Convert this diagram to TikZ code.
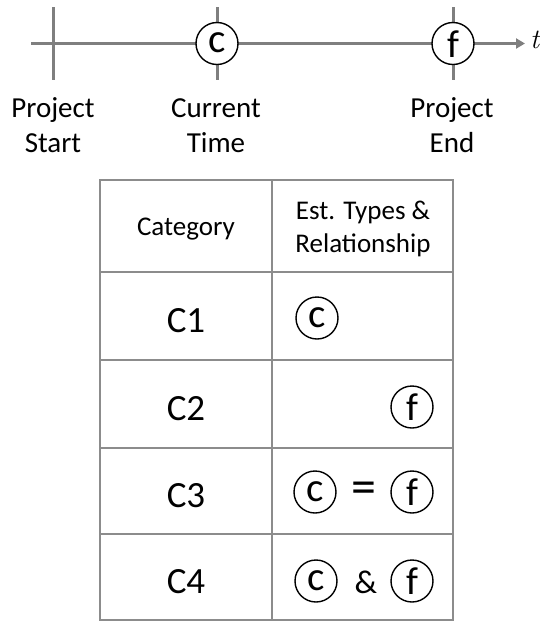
\documentclass[tikz,border=0pt]{standalone}
\usepackage{fontspec}
\setmainfont{Carlito}
\newfontfamily\lmserif{Latin Modern Roman}
\usetikzlibrary{arrows.meta}
\definecolor{tl}{HTML}{7F7F7F}
\definecolor{tb}{HTML}{8C8C8C}
\begin{document}
\begin{tikzpicture}[x=1pt,y=-1pt,
  tline/.style={draw=tl, line width=3pt},
  est/.style={circle, draw=black, line width=1.4pt, fill=white, minimum size=42pt, inner sep=0pt},
  lc/.style={anchor=base, inner sep=0pt, yshift=-9pt, font=\fontsize{41}{44}\selectfont},
  lf/.style={anchor=base, inner sep=0pt, yshift=-13.5pt, font=\fontsize{39}{44}\selectfont},
  lbl/.style={align=center, font=\fontsize{29}{35}\selectfont, inner sep=0pt},
  hdr/.style={align=center, font=\fontsize{27}{33}\selectfont, inner sep=0pt},
  cat/.style={anchor=base, font=\fontsize{37}{40}\selectfont, inner sep=0pt},
  cell/.style={draw=tb, line width=2pt, inner sep=0pt, minimum height=#1},
  cl/.style={cell=#1, minimum width=172pt},
  cr/.style={cell=#1, minimum width=181pt},
  sym/.style={anchor=base, font=\fontsize{#1}{44}\selectfont, inner sep=0pt}
]
\useasboundingbox (0,0) rectangle (540,622);
% timeline
\coordinate (L) at (31,43.5);
\coordinate (R) at (525,43.5);
\coordinate (sT) at (53,7);   \coordinate (sB) at (53,80);
\coordinate (cTt) at (217,7); \coordinate (cTb) at (217,80);
\coordinate (fTt) at (453,7); \coordinate (fTb) at (453,80);
\draw[tline, -{Triangle[length=9pt,width=10pt]}] (L) -- (R);
\draw[tline] (sT) -- (sB);
\draw[tline] (cTt) -- (cTb);
\draw[tline] (fTt) -- (fTb);
\node[est] (cT) at (217,43.5) {};
\node[lc] (cTl) at (cT.center) {c};
\node[est] (fT) at (453,43.5) {};
\node[lf] (fTl) at (fT.center) {f};
\node[anchor=base west, inner sep=0pt, font=\lmserif\itshape\fontsize{28}{30}\selectfont] (t) at (530,48) {t};
\node[lbl] (ps) at (53,125.5) {Project\\Start};
\node[lbl] (ct) at (216,125.5) {Current\\Time};
\node[lbl] (pe) at (452,125.5) {Project\\End};
% table cells
\node[cl=92pt] (h1) at (186,226) {};
\node[cr=92pt] (h2) at (362.5,226) {};
\node[cl=88pt] (a1) at (186,316) {};
\node[cr=88pt] (a2) at (362.5,316) {};
\node[cl=88pt] (b1) at (186,404) {};
\node[cr=88pt] (b2) at (362.5,404) {};
\node[cl=86pt] (c1) at (186,491) {};
\node[cr=86pt] (c2) at (362.5,491) {};
\node[cl=86pt] (d1) at (186,577) {};
\node[cr=86pt] (d2) at (362.5,577) {};
% header text
\node[hdr, anchor=base] (hcat) at (186,235) {Category};
\node[hdr] (hest) at (363,229) {Est. Types \&\\Relationship};
% categories
\node[cat] (k1) at (186,332) {C1};
\node[cat] (k2) at (186,420) {C2};
\node[cat] (k3) at (186,507) {C3};
\node[cat] (k4) at (186,593) {C4};
% estimates
\node[est] (e1c) at (317,318) {};
\node[lc] (e1cl) at (e1c.center) {c};
\node[est] (e2f) at (412,407) {};
\node[lf] (e2fl) at (e2f.center) {f};
\node[est] (e3c) at (315,492) {};
\node[lc] (e3cl) at (e3c.center) {c};
\node[sym=50] (e3eq) at (364,503) {=};
\node[est] (e3f) at (412,492) {};
\node[lf] (e3fl) at (e3f.center) {f};
\node[est] (e4c) at (316,581) {};
\node[lc] (e4cl) at (e4c.center) {c};
\node[sym=33] (e4and) at (366,593) {\&};
\node[est] (e4f) at (412,581) {};
\node[lf] (e4fl) at (e4f.center) {f};
\end{tikzpicture}
\end{document}
